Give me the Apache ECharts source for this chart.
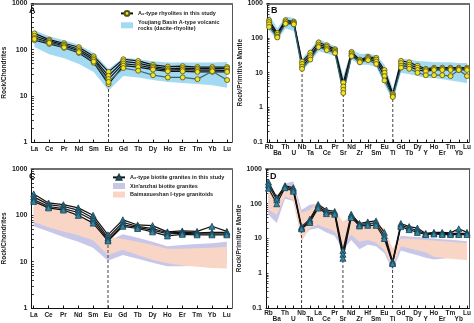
<!DOCTYPE html>
<html><head><meta charset="utf-8">
<script src="https://cdn.jsdelivr.net/npm/echarts@6/dist/echarts.min.js"></script>
<style>html,body{margin:0;padding:0;background:#fff}#c{width:474px;height:323px}</style>
</head><body><div id="c"></div>
<script>
// ---------- categories & ticks ----------
const reeCats = ['La','Ce','Pr','Nd','Sm','Eu','Gd','Tb','Dy','Ho','Er','Tm','Yb','Lu'];
const spiderCats = ['Rb','Ba','Th','U','Nb','Ta','La','Ce','Pr','Sr','Nd','Zr','Hf','Sm','Eu','Ti','Gd','Tb','Dy','Y','Ho','Er','Tm','Yb','Lu'];
const reeTicks = [1,10,100,1000];
const spiderTicks = [0.1,1,10,100,1000];
const reeDashCats = ['Eu'];
const spiderDashCats = ['Nb','Sr','Ti'];

// ---------- Panel A: chondrite-normalised REE, rhyolites ----------
const rhyA1 = [225,165,138,113,72,33,62,57,47,43,44,42,42,42];
const rhyA2 = [200,155,128,102,65,27,56,51,43,39,40,39,39,39];
const rhyA3 = [180,145,120,94,60,23,50,46,40,36,37,36,36,35];
const rhyA4 = [160,133,110,85,52,18,45,42,37,34,34,33,33,33];
const rhyA5 = [170,140,112,88,55,20,40,35,28,25,25,23,34,22];
const youjiangReeUpper = [265,195,160,128,85,38,68,62,56,53,53,53,53,54];
const youjiangReeLower = [114,80,65,49,33,13,27,25,22,20,19,18,17,15];

// ---------- Panel B: primitive-mantle spider, rhyolites ----------
const rhyB1 = [330,140,330,300,21,38,75,62,48,5.2,40,24,29,27,12,2.5,22,20,16,13,14,14,14,14,14];
const rhyB2 = [290,125,300,280,18,32,65,56,44,4.0,36,22,27,24,10,2.3,19,17,14,12,13,13,13,13,13];
const rhyB3 = [250,110,270,260,15,28,58,50,40,3.2,32,21,25,21,8,2.1,16,15,12,11,12,12,12,12,12];
const rhyB4 = [210,105,260,250,13,24,55,45,37,2.6,30,20,23,18,6,2.0,14,13,10,8.5,8.5,8.5,8,12,8];
const youjiangSpUpper = [480,190,420,380,26,48,95,75,58,8,48,35,36,32,17,3.5,26,24,22,21,20,20,20,19,19];
const youjiangSpLower = [170,85,190,160,11,20,42,36,30,2.2,24,17,17,15,4.5,1.5,10,9,8,7,7,6.5,6,5.5,5];

// ---------- Panel C: chondrite-normalised REE, biotite granites ----------
const graC1 = [290,185,170,145,100,38,80,62,60,44,46,45,58,45];
const graC2 = [250,170,155,130,88,33,70,58,52,42,43,42,43,43];
const graC3 = [220,155,140,115,78,30,62,55,48,40,41,40,40,40];
const graC4 = [200,145,130,100,68,28,58,52,44,36,39,38,38,38];
const xinReeUpper = [150,120,100,80,55,28,39,33,27,21.5,23,24,25,27];
const xinReeLower = [58,45,34,27,20,10.5,14,11.5,9.5,8,8,8.2,8.5,9];
const baiReeUpper = [215,160,130,100,67,35,31,27,23,19,19,19.5,20,21];
const baiReeLower = [72,55,45,37,29,14,18,14,11,9.2,8.3,7.8,7.3,7.1];

// ---------- Panel D: primitive-mantle spider, biotite granites ----------
const graD1 = [420,150,330,290,22,36,95,66,60,4.5,50,27,30,32,15,2.2,27,22,20,14,15,15,14.5,19,15];
const graD2 = [350,130,310,260,20,32,85,58,55,3.5,45,25,27,28,12,2.0,24,20,17,13.5,14,14,14,14,14];
const graD3 = [280,100,290,230,19,29,75,52,50,2.7,40,23,24,24,10,1.9,22,18,15,13,13.5,13,13,13,13];
const xinSpUpper = [200,140,380,440,67,94,100,65,55,25,38,25,27,22,17,4.5,12,11.5,11,10.5,10,9.5,9.2,8.8,8.3];
const xinSpLower = [48,28,140,120,10,18,20,15,12,4.7,9.1,4.9,6.6,6,3.8,1.2,4.5,3.8,3.3,2.8,2.5,2.6,2.8,3.0,3.2];
const baiSpUpper = [227,163,316,320,54,67,117,70,65,31,43,28,31,25,20,5.2,10,9.8,9.5,9,8.7,8.3,8,7.7,7.4];
const baiSpLower = [67,48,163,130,8.2,20,25,20,16,6.6,12.8,8.1,9.1,7.7,4.7,1.55,5.9,5.2,4.6,4.0,3.0,2.8,2.6,2.5,2.4];

// ---------- names ----------
const nameRhy = 'A\u2082-type rhyolites in this study';
const nameYou = 'Youjiang Basin A-type volcanic\nrocks (dacite-rhyolite)';
const nameGra = 'A\u2082-type biotite granites in this study';
const nameXin = "Xin'anzhai biotite granites";
const nameBai = 'Baimaxueshan I-type granitoids';

const colBlue = '#a3d9f1', colViolet = '#c9c7e8', colPink = '#f9d5c6';
const FONT = 'Liberation Sans';
const LBL = {color:'#222', fontSize:6.5, fontWeight:'bold', fontFamily:FONT, showMinLabel:true, showMaxLabel:true};

const grids = [
  {left:25, top:2, width:207, height:140},
  {left:267, top:2, width:206, height:140},
  {left:25, top:169, width:207, height:139},
  {left:266, top:169, width:207, height:139}
];

function logTickValues(min, max){
  const out=[];
  for(let d=min; d<max*1.0001; d*=10){
    for(let k=1;k<10;k++){ const v=+(d*k).toPrecision(3); if(v<=max*1.0001) out.push(v); }
  }
  return out;
}

// main bottom axis: line, all ticks, and labels (all for REE, even ones for spider)
function xAxisFor(gi, cats, spider, range){
  const idx = cats.map((_,i)=>i);
  const lblIdx = spider ? idx.filter(i=>i%2===0) : idx;
  return {
    type:'value', gridIndex:gi, min:range[0], max:range[1], position:'bottom',
    axisLine:{show:true, onZero:false, lineStyle:{color:'#111', width:1}},
    axisTick:{show:true, inside:true, length:2.5, customValues:idx, lineStyle:{color:'#111', width:1}},
    splitLine:{show:false},
    axisLabel:Object.assign({customValues:lblIdx, margin:spider?2:4, formatter:v=>cats[Math.round(v)]}, LBL)
  };
}
// staggered lower row of spider labels
function xAxisOdd(gi, cats, range){
  const lblIdx = cats.map((_,i)=>i).filter(i=>i%2===1);
  return {
    type:'value', gridIndex:gi, min:range[0], max:range[1], position:'bottom',
    axisLine:{show:false, onZero:false}, axisTick:{show:false}, splitLine:{show:false},
    axisLabel:Object.assign({customValues:lblIdx, margin:8, formatter:v=>cats[Math.round(v)]}, LBL)
  };
}
function topAxis(gi){
  return {type:'value', gridIndex:gi, position:'top', min:0, max:1,
    axisLine:{show:true, onZero:false, lineStyle:{color:'#6f6f6f', width:2}},
    axisTick:{show:false}, axisLabel:{show:false}, splitLine:{show:false}};
}
function rightAxis(gi){
  return {type:'value', gridIndex:gi, position:'right', min:0, max:1,
    axisLine:{show:true, onZero:false, lineStyle:{color:'#555', width:1}},
    axisTick:{show:false}, axisLabel:{show:false}, splitLine:{show:false}};
}
function yAxisFor(gi, ticks, name, gap){
  const min = ticks[0], max = ticks[ticks.length-1];
  return {
    type:'log', logBase:10, gridIndex:gi, min, max, position:'left',
    name, nameLocation:'middle', nameGap:gap, nameRotate:90,
    nameTextStyle:{fontSize:6.5, fontWeight:'bold', color:'#222', fontFamily:FONT},
    axisLine:{show:true, onZero:false, lineStyle:{color:'#111', width:1}},
    axisTick:{show:true, inside:true, length:2.5, customValues:logTickValues(min,max), lineStyle:{color:'#111', width:0.8}},
    minorTick:{show:false},
    splitLine:{show:false},
    axisLabel:{customValues:ticks, margin:4, fontSize:7, fontWeight:'bold', color:'#222', fontFamily:FONT,
      showMinLabel:true, showMaxLabel:true,
      formatter: v => String(+(+v).toPrecision(3))}
  };
}

function band(name, upper, lower, color, ai){
  return {
    type:'custom', name, xAxisIndex:ai, yAxisIndex:ai, z:1, silent:true, clip:true,
    itemStyle:{color},
    data: upper.map((u,i)=>[i, lower[i], u]),
    encode:{x:0, y:[1,2]},
    renderItem:(params, api)=>{
      if(params.dataIndex!==0) return null;
      const pts=[];
      for(let i=0;i<upper.length;i++) pts.push(api.coord([i, upper[i]]));
      for(let i=lower.length-1;i>=0;i--) pts.push(api.coord([i, lower[i]]));
      return {type:'polygon', shape:{points:pts}, style:{fill:color, stroke:null}};
    }
  };
}
function line(name, vals, ai, kind, lineColor){
  const yel = kind==='circle';
  return {
    type:'line', name, xAxisIndex:ai, yAxisIndex:ai, z:4,
    data: vals.map((v,i)=>[i,v]),
    symbol: yel ? 'circle' : 'triangle', symbolSize: yel ? 5 : 6,
    lineStyle:{color: lineColor || '#111', width:1.2},
    itemStyle: yel ? {color:'#f2e41e', borderColor:'#55521e', borderWidth:0.8}
                   : {color:'#2f88a8', borderColor:'#1c3f4e', borderWidth:0.8},
    emphasis:{disabled:true}, animation:false
  };
}
function dashes(cats, dashCats, seriesList, axisMin, ai){
  return dashCats.map(c=>{
    const i = cats.indexOf(c);
    const low = Math.min(...seriesList.map(s=>s[i]));
    return {type:'line', xAxisIndex:ai, yAxisIndex:ai, z:3, symbol:'none', silent:true,
      data:[[i, axisMin],[i, low*0.9]], lineStyle:{color:'#444', width:1, type:[3,2]}, animation:false};
  });
}

const rhyA = [rhyA1,rhyA2,rhyA3,rhyA4,rhyA5];
const rhyB = [rhyB1,rhyB2,rhyB3,rhyB4];
const graC = [graC1,graC2,graC3,graC4];
const graD = [graD1,graD2,graD3];

const series = [
  band(nameYou, youjiangReeUpper, youjiangReeLower, colBlue, 0),
  band('youjiangSpider', youjiangSpUpper, youjiangSpLower, colBlue, 1),
  band(nameXin, xinReeUpper, xinReeLower, colViolet, 2),
  band(nameBai, baiReeUpper, baiReeLower, colPink, 2),
  band('xinSpider', xinSpUpper, xinSpLower, colViolet, 3),
  band('baiSpider', baiSpUpper, baiSpLower, colPink, 3),
  ...dashes(reeCats, reeDashCats, rhyA, 1, 0),
  ...dashes(spiderCats, spiderDashCats, rhyB, 0.1, 1),
  ...dashes(reeCats, reeDashCats, graC, 1, 2),
  ...dashes(spiderCats, spiderDashCats, graD, 0.1, 3),
  ...rhyA.map((s,k)=>line(nameRhy, s, 0, 'circle', k===4?'#3b6670':'#111')),
  ...rhyB.map((s,k)=>line('rhySpider'+k, s, 1, 'circle', k===3?'#3b6670':'#111')),
  ...graC.map(s=>line(nameGra, s, 2, 'tri')),
  ...graD.map((s,k)=>line('graSpider'+k, s, 3, 'tri'))
];

const panelTitle = (t,l,tp)=>({text:t, left:l, top:tp, padding:0, textStyle:{fontSize:9, fontWeight:'bold', color:'#111', fontFamily:FONT}});
const legendBase = {orient:'vertical', itemWidth:12, itemHeight:6, itemGap:2, selectedMode:false, padding:0,
  textStyle:{fontSize:5.5, fontWeight:'bold', color:'#222', fontFamily:FONT, lineHeight:6.5}};

const rangeB = [-0.25, 24.25], rangeD = [-0.3, 24.3];
const option = {
  animation:false,
  backgroundColor:'#fff',
  title:[panelTitle('A',29,6), panelTitle('B',271,6), panelTitle('C',29,172), panelTitle('D',270,172)],
  legend:[
    Object.assign({}, legendBase, {left:120, top:10, data:[{name:nameRhy},{name:nameYou, icon:'rect'}]}),
    Object.assign({}, legendBase, {left:112, top:174, data:[{name:nameGra},{name:nameXin, icon:'rect'},{name:nameBai, icon:'rect'}]})
  ],
  grid: grids,
  xAxis:[
    xAxisFor(0, reeCats, false, [-0.2, 13.33]),
    xAxisFor(1, spiderCats, true, rangeB),
    xAxisFor(2, reeCats, false, [-0.15, 13.35]),
    xAxisFor(3, spiderCats, true, rangeD),
    topAxis(0), topAxis(1), topAxis(2), topAxis(3),
    xAxisOdd(1, spiderCats, rangeB),
    xAxisOdd(3, spiderCats, rangeD)
  ],
  yAxis:[
    yAxisFor(0, reeTicks, 'Rock/Chondrites', 11),
    yAxisFor(1, spiderTicks, 'Rock/Primitive Mantle', 12),
    yAxisFor(2, reeTicks, 'Rock/Chondrites', 11),
    yAxisFor(3, spiderTicks, 'Rock/Primitive Mantle', 12),
    rightAxis(0), rightAxis(1), rightAxis(2), rightAxis(3)
  ],
  series
};
const chart = echarts.init(document.getElementById('c'), null, {renderer:'canvas'});
chart.setOption(option);
</script>
</body></html>
